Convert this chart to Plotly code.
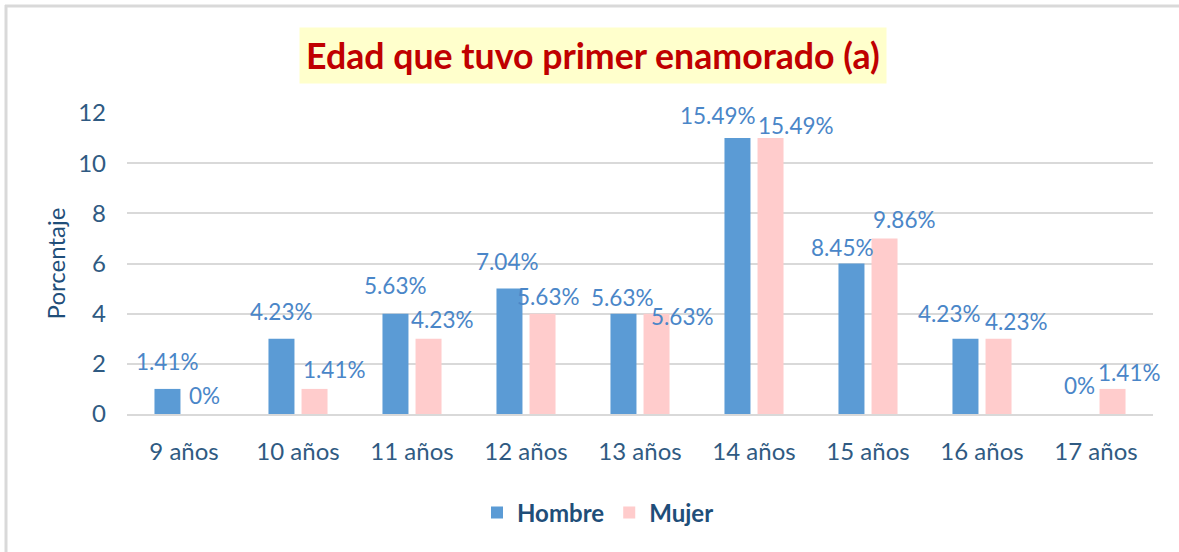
import plotly.graph_objects as go

categories = ["9 años", "10 años", "11 años", "12 años", "13 años", "14 años", "15 años", "16 años", "17 años"]
hombre = [1, 3, 4, 5, 4, 11, 6, 3, 0]
mujer = [0, 1, 3, 4, 4, 11, 7, 3, 1]
hombre_labels = ["1.41%", "4.23%", "5.63%", "7.04%", "5.63%", "15.49%", "8.45%", "4.23%", "0%"]
mujer_labels = ["0%", "1.41%", "4.23%", "5.63%", "5.63%", "15.49%", "9.86%", "4.23%", "1.41%"]
y_ticks = [0, 2, 4, 6, 8, 10, 12]

# label nudges (pixels) relative to the top-centre of each bar, as placed in the original
hombre_dx = [0, 0, 0, -2, -1, -19, -9, -16, 0]
hombre_dy = [27, 27, 28, 27, 16, 23, 16, 25, 29]
mujer_dx = [4, 20, 14, 6, 26, 25, 20, 18, 17]
mujer_dy = [19, 19, 19, 17, -3, 13, 19, 17, 16]

FONT = "Lato"
AXIS_COLOR = "#2f5a82"
LABEL_COLOR = "#4a86c8"

W, H = 1179, 552
L, R, T, B = 127, 26, 113, 138
pw, ph = W - L - R, H - T - B
slot = pw / len(categories)

BAR_W = 0.228
H_OFF = -0.259
M_OFF = 0.031

def px_x(x):
    return (x - L) / pw

def px_y(y):
    return (H - B - y) / ph

fig = go.Figure()
fig.add_trace(go.Bar(
    name="Hombre", x=categories, y=hombre,
    marker=dict(color="#5b9bd5", line=dict(width=0)),
    width=BAR_W, offset=H_OFF,
))
fig.add_trace(go.Bar(
    name="Mujer", x=categories, y=mujer,
    marker=dict(color="#ffcccc", line=dict(width=0)),
    width=BAR_W, offset=M_OFF,
))

annotations = []
for series, labels, off, dxs, dys in [
    (hombre, hombre_labels, H_OFF, hombre_dx, hombre_dy),
    (mujer, mujer_labels, M_OFF, mujer_dx, mujer_dy),
]:
    centre_px = (off + BAR_W / 2) * slot
    for cat, val, lab, dx, dy in zip(categories, series, labels, dxs, dys):
        annotations.append(dict(
            x=cat, y=val, xref="x", yref="y", text=lab, showarrow=False,
            xanchor="center", yanchor="middle",
            xshift=centre_px + dx, yshift=dy,
            font=dict(family=FONT, size=22.5, color=LABEL_COLOR),
        ))

annotations.append(dict(
    text="<b>Edad que tuvo primer enamorado (a)</b>",
    xref="paper", yref="paper", x=px_x(593), y=px_y(55),
    xanchor="center", yanchor="middle", showarrow=False,
    font=dict(family=FONT, size=35.7, color="#c00000"),
    bgcolor="#ffffcc", borderpad=6,
))

fig.update_layout(
    width=W, height=H,
    margin=dict(l=L, r=R, t=T, b=B),
    paper_bgcolor="white", plot_bgcolor="white",
    font=dict(family=FONT, color=AXIS_COLOR, size=24),
    barmode="group",
    showlegend=True,
    legend=dict(
        orientation="h", x=px_x(598), y=px_y(513), xanchor="center", yanchor="middle",
        font=dict(family=FONT, size=24, color="#1f4e79", weight="bold"),
        itemsizing="constant", itemwidth=30, traceorder="normal",
    ),
    xaxis=dict(
        range=[-0.5, len(categories) - 0.5],
        showgrid=False, showline=True, linecolor="#d9d9d9", linewidth=1.5,
        tickfont=dict(family=FONT, size=24, color=AXIS_COLOR),
        ticks="", ticklabelstandoff=15,
    ),
    yaxis=dict(
        range=[0, 12], tickvals=y_ticks, showgrid=True, gridcolor="#d9d9d9", gridwidth=1.5,
        zeroline=False, showline=False,
        tickfont=dict(family=FONT, size=24, color=AXIS_COLOR),
        ticks="", ticklabelstandoff=20,
        title=dict(text="Porcentaje", font=dict(family=FONT, size=24, color="#1f4e79"), standoff=5),
    ),
    annotations=annotations,
    shapes=[
        dict(type="line", xref="paper", yref="paper", x0=px_x(5), x1=px_x(W), y0=px_y(6), y1=px_y(6),
             line=dict(color="#d9d9d9", width=3)),
        dict(type="line", xref="paper", yref="paper", x0=px_x(6), x1=px_x(6), y0=px_y(5), y1=px_y(H),
             line=dict(color="#d9d9d9", width=3)),
    ],
)

fig.write_html("out.html", config={"displayModeBar": False},
               post_script="document.body.style.margin='0';")
